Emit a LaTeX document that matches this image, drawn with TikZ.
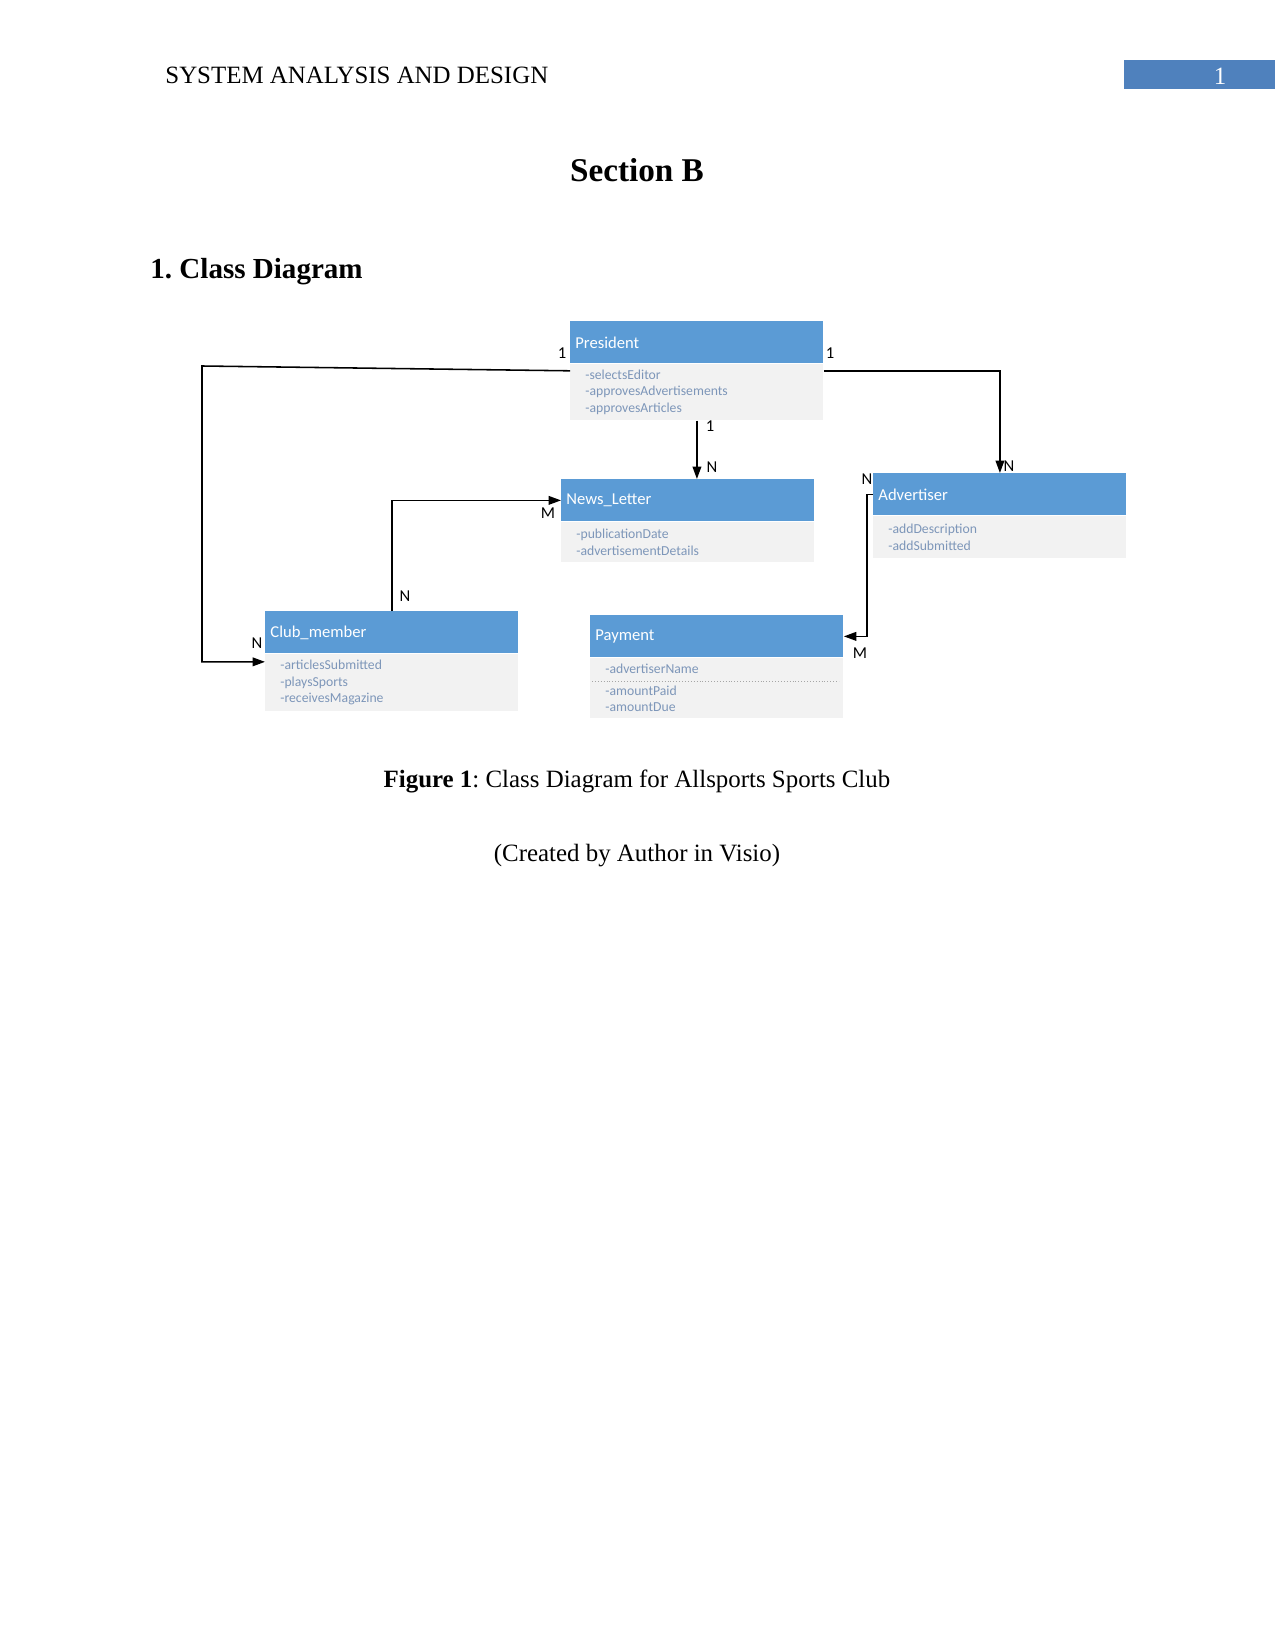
\documentclass[tikz,border=0pt]{standalone}
\usepackage{fontspec}
\setmainfont{Liberation Serif}
\newfontfamily\visiofont{Carlito}
\usetikzlibrary{arrows.meta}
\frenchspacing

\definecolor{headblue}{RGB}{91,155,213}
\definecolor{bodygray}{RGB}{242,242,242}
\definecolor{attrblue}{RGB}{125,150,185}
\definecolor{pageblue}{RGB}{79,129,189}

\tikzset{
  classhead/.style={anchor=north west, fill=headblue, text=white, font=\visiofont\fontsize{8}{9.6}\selectfont,
    text width=117.1pt, inner xsep=2.4pt, inner ysep=0pt, minimum height=20.2pt, align=left},
  classbody/.style={anchor=north west, fill=bodygray, text=attrblue, font=\visiofont\fontsize{6.6}{7.95}\selectfont,
    text width=107.5pt, inner xsep=7.2pt, inner ysep=0pt, align=left},
  mult/.style={font=\visiofont\fontsize{8}{9.6}\selectfont, inner sep=0pt},
  assoc/.style={line width=0.75pt, -{Triangle[length=6pt,width=4.2pt]}},
}

\begin{document}
\begin{tikzpicture}[x=0.4818pt,y=-0.4818pt]
\useasboundingbox (0,0) rectangle (1275,1651);

% page header
\node[anchor=base west, inner sep=0pt, font=\fontsize{12}{14}\selectfont] (runhead) at (165,84) {SYSTEM ANALYSIS AND DESIGN};
\node[anchor=north west, fill=pageblue, minimum width=72.3pt, minimum height=14pt, inner sep=0pt] (pagebox) at (1124,60) {};
\node[anchor=base, inner sep=0pt, text=white, font=\fontsize{12}{14}\selectfont] (pagenum) at (1220,85) {1};

\node[anchor=base, inner sep=0pt, font=\bfseries\fontsize{16}{19}\selectfont] (section) at (637,182) {Section B};
\node[anchor=base west, inner sep=0pt, font=\bfseries\fontsize{14}{17}\selectfont] (heading) at (150,279) {1. Class Diagram};

% classes
\node[classhead] (preshead) at (570,321) {President};
\node[classbody, minimum height=27pt] (presbody) at (preshead.south west) {-selectsEditor\\-approvesAdvertisements\\-approvesArticles};

\node[classhead] (newshead) at (561,479) {News\_Letter};
\node[classbody, minimum height=19.3pt] (newsbody) at (newshead.south west) {-publicationDate\\-advertisementDetails};

\node[classhead] (advhead) at (873,473) {Advertiser};
\node[classbody, minimum height=20.2pt] (advbody) at (advhead.south west) {-addDescription\\-addSubmitted};

\node[classhead] (clubhead) at (265,611) {Club\_member};
\node[classbody, minimum height=27.5pt] (clubbody) at (clubhead.south west) {-articlesSubmitted\\-playsSports\\-receivesMagazine};

\node[classhead] (payhead) at (590,615) {Payment};
\node[classbody, minimum height=28.9pt] (paybody) at (payhead.south west) {-advertiserName\\[2.5pt]-amountPaid\\-amountDue};
\draw[gray!70, densely dotted, line width=0.4pt] (592,681) -- (839,681);

% associations
\draw[assoc] ([yshift=-3.4pt]presbody.north west) -- (202,366) |- ([yshift=-3.9pt]clubbody.north west);
\draw[assoc] ([yshift=-3.4pt]presbody.north east) -| (advhead.north);
\draw[assoc] (presbody.south) -- (presbody.south |- newshead.north);
\draw[assoc] (clubhead.north) |- (newshead.west);
\draw[assoc] (advhead.west) -- ++(-2.9pt,0) |- (payhead.east);

% multiplicities
\node[mult] (m1) at (562,353) {1};
\node[mult] (m2) at (257,643) {N};
\node[mult] (m3) at (830,353) {1};
\node[mult] (m4) at (1009,466) {N};
\node[mult] (m5) at (710,426) {1};
\node[mult] (m6) at (712,467) {N};
\node[mult] (m7) at (405,596) {N};
\node[mult] (m8) at (548,513) {M};
\node[mult] (m9) at (867,479) {N};
\node[mult] (m10) at (860,653) {M};

% caption
\node[anchor=base, inner sep=0pt, font=\fontsize{12}{14}\selectfont] (caption) at (637,787) {\textbf{Figure 1}: Class Diagram for Allsports Sports Club};
\node[anchor=base, inner sep=0pt, font=\fontsize{12}{14}\selectfont] (credit) at (637,861) {(Created by Author in Visio)};
\end{tikzpicture}
\end{document}
